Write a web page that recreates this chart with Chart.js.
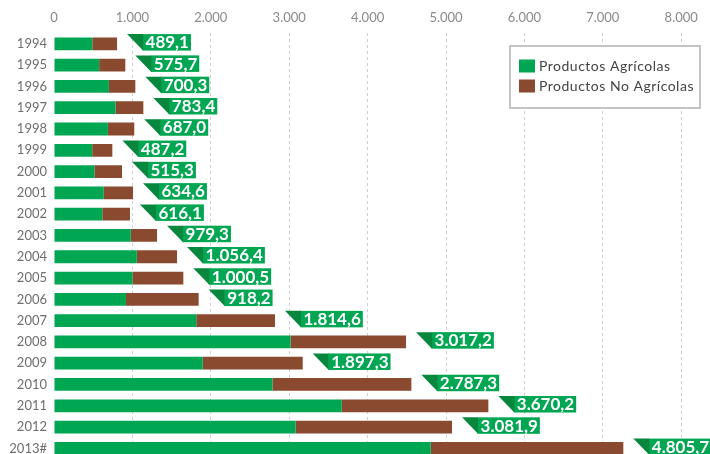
<!DOCTYPE html>
<html>
<head>
<meta charset="utf-8">
<script src="https://cdn.jsdelivr.net/npm/chart.js@4/dist/chart.umd.min.js"></script>
<style>
  html, body { margin: 0; padding: 0; background: #fff; overflow: hidden; width: 710px; height: 454px; }
  canvas { display: block; }
</style>
</head>
<body>
<canvas id="chart" width="710" height="460"></canvas>
<script>
// Exportaciones por año (valores en millones)
const years = ['1994','1995','1996','1997','1998','1999','2000','2001','2002','2003',
               '2004','2005','2006','2007','2008','2009','2010','2011','2012','2013#'];
const agricolas = [489.1, 575.7, 700.3, 783.4, 687.0, 487.2, 515.3, 634.6, 616.1, 979.3,
                   1056.4, 1000.5, 918.2, 1814.6, 3017.2, 1897.3, 2787.3, 3670.2, 3081.9, 4805.7];
const noAgricolas = [315, 334, 337, 356, 337, 257, 352, 373, 353, 335,
                     513, 649, 927, 1004, 1473, 1275, 1771, 1870, 1995, 2456];
const xTicks = [0, 1000, 2000, 3000, 4000, 5000, 6000, 7000, 8000];

const GREEN = '#00a651';
const BROWN = '#8a4a2f';
const TAG_DARK = '#07873e';

// Spanish number format: 1.056,4
function fmtEs(v, dec) {
  const parts = v.toFixed(dec).split('.');
  const ip = parts[0].replace(/\B(?=(\d{3})+(?!\d))/g, '.');
  return parts.length > 1 ? ip + ',' + parts[1] : ip;
}

// Ribbon-style tag after each bar showing the agricultural value
const valueTags = {
  id: 'valueTags',
  afterDatasetsDraw(chart) {
    const ctx = chart.ctx, xs = chart.scales.x, ys = chart.scales.y;
    ctx.save();
    ctx.font = 'bold 17px Lato';
    ctx.textBaseline = 'middle';
    ctx.textAlign = 'left';
    agricolas.forEach((v, i) => {
      const total = v + noAgricolas[i];
      const cy = ys.getPixelForValue(i) - 1.5;
      const x0 = xs.getPixelForValue(total) + 10;
      const txt = fmtEs(v, 1);
      const w = ctx.measureText(txt).width;
      const h = 16.5, top = cy - h / 2, bot = cy + h / 2;
      const x1 = x0 + 15.5, x2 = x1 + 3 + w + 2;
      ctx.fillStyle = GREEN;
      ctx.fillRect(x1, top, x2 - x1, h);
      ctx.fillStyle = TAG_DARK;
      ctx.beginPath();
      ctx.moveTo(x0, top);
      ctx.lineTo(x1 + 0.5, top);
      ctx.lineTo(x1 + 0.5, bot);
      ctx.closePath();
      ctx.fill();
      ctx.fillStyle = '#ffffff';
      ctx.fillText(txt, x1 + 3, cy + 0.5);
    });
    ctx.restore();
  }
};

// Boxed legend in the upper-right of the plot
const boxLegend = {
  id: 'boxLegend',
  afterDraw(chart) {
    const ctx = chart.ctx;
    const bx = 510, by = 46, bw = 190, bh = 62;
    ctx.save();
    ctx.fillStyle = '#ffffff';
    ctx.fillRect(bx, by, bw, bh);
    ctx.strokeStyle = '#c4c4c4';
    ctx.lineWidth = 2;
    ctx.strokeRect(bx, by, bw, bh);
    ctx.font = '14px Lato';
    ctx.letterSpacing = '0.5px';
    ctx.textBaseline = 'middle';
    chart.data.datasets.forEach((ds, i) => {
      const cy = 66 + i * 20;
      ctx.fillStyle = ds.backgroundColor;
      ctx.fillRect(519, cy - 6.5, 16, 13);
      ctx.fillStyle = '#444444';
      ctx.fillText(ds.label, 539, cy);
    });
    ctx.restore();
  }
};

new Chart(document.getElementById('chart'), {
  type: 'bar',
  data: {
    labels: years,
    datasets: [
      { label: 'Productos Agrícolas', data: agricolas, backgroundColor: GREEN, barPercentage: 0.6, categoryPercentage: 1 },
      { label: 'Productos No Agrícolas', data: noAgricolas, backgroundColor: BROWN, barPercentage: 0.6, categoryPercentage: 1 }
    ]
  },
  options: {
    indexAxis: 'y',
    responsive: false,
    animation: false,
    layout: { padding: { left: 0, right: 28.8, top: 0, bottom: 1 } },
    plugins: { legend: { display: false }, tooltip: { enabled: false } },
    scales: {
      x: {
        position: 'top',
        stacked: true,
        min: 0,
        max: 8000,
        afterBuildTicks(s) { s.ticks = xTicks.map(v => ({ value: v })); },
        afterFit(s) { s.height = 33.2; s.paddingLeft = 0; s.paddingRight = 0; },
        grid: {
          drawTicks: false,
          color: c => (c.tick && c.tick.value === 0) ? 'rgba(0,0,0,0)' : '#d0d0d0',
          lineWidth: 1
        },
        border: { display: false, dash: [3, 3] },
        ticks: {
          padding: 8,
          color: '#8a8a8a',
          font: { family: 'Lato', size: 13 },
          callback: v => fmtEs(v, 0)
        }
      },
      y: {
        stacked: true,
        afterFit(s) { s.width = 54; s.paddingTop = 0; s.paddingBottom = 0; },
        grid: { display: false, drawTicks: false },
        border: { display: false },
        ticks: {
          padding: 7,
          color: '#6e6e6e',
          font: { family: 'Lato', size: 13 }
        }
      }
    }
  },
  plugins: [valueTags, boxLegend]
});
</script>
</body>
</html>
